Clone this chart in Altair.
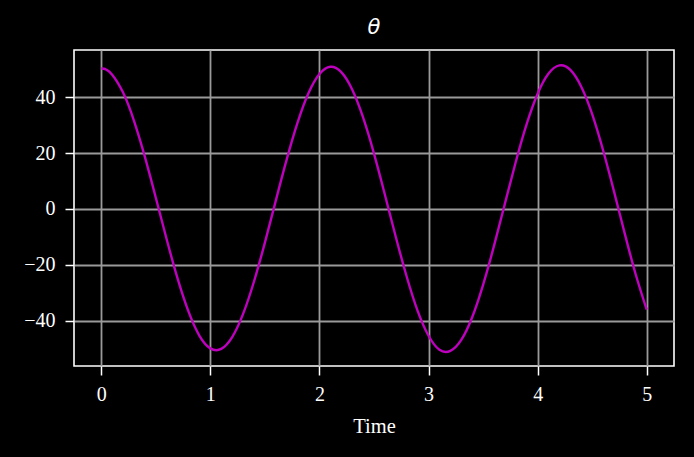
import altair as alt
import pandas as pd

# Time samples (s) and pendulum angle theta (deg)
time = [0.0, 0.025, 0.05, 0.1, 0.2, 0.3, 0.4, 0.5, 0.6, 0.7, 0.8, 0.9,
        1.0, 1.1, 1.2, 1.3, 1.4, 1.5, 1.6, 1.7, 1.8, 1.9,
        2.0, 2.1, 2.2, 2.3, 2.4, 2.5, 2.6, 2.7, 2.8, 2.9,
        3.0, 3.1, 3.2, 3.3, 3.4, 3.5, 3.6, 3.7, 3.8, 3.9,
        4.0, 4.1, 4.2, 4.3, 4.4, 4.5, 4.6, 4.7, 4.8, 4.9, 5.0]
theta = [50.2, 50.1, 49.7, 48.0, 41.6, 31.5, 18.6, 4.0, -10.9, -24.9, -36.7, -45.3,
         -49.8, -50.0, -45.8, -37.5, -25.9, -12.0, 3.0, 17.7, 30.9, 41.4,
         48.2, 50.8, 48.9, 42.7, 32.7, 19.8, 5.1, -10.0, -24.2, -36.4,
         -45.3, -50.3, -50.7, -46.8, -38.7, -27.1, -13.2, 1.9, 16.9, 30.4,
         41.2, 48.4, 51.3, 49.7, 43.7, 33.9, 21.0, 6.3, -9.0, -23.5, -36.0]
x_ticks = [0, 1, 2, 3, 4, 5]
y_ticks = [-40, -20, 0, 20, 40]

df = pd.DataFrame({"Time": time, "theta": theta})

axis_common = dict(
    labelFont="Liberation Serif",
    labelFontSize=20,
    labelColor="white",
    titleFont="Liberation Serif",
    titleFontSize=20.5,
    titleFontWeight="normal",
    titleColor="white",
    tickColor="white",
    tickSize=9,
    tickWidth=1.5,
    domain=False,
    grid=True,
    gridColor="#9a9a9a",
    gridWidth=1.8,
    gridOpacity=1,
)

chart = alt.Chart(df).mark_line(
    color="#bf00bf", strokeWidth=2.4, interpolate="natural", clip=True
).encode(
    x=alt.X(
        "Time:Q",
        scale=alt.Scale(domain=[-0.25, 5.25], nice=False, zero=False),
        axis=alt.Axis(
            values=x_ticks, title="Time", labelPadding=9, titlePadding=12,
            labelExpr="replace(format(datum.value, 'd'), '-', '\u2212')",
            **axis_common,
        ),
    ),
    y=alt.Y(
        "theta:Q",
        scale=alt.Scale(domain=[-56.1, 56.8], nice=False, zero=False),
        axis=alt.Axis(
            values=y_ticks, title=None, labelPadding=10,
            labelExpr="replace(format(datum.value, 'd'), '-', '\u2212')",
            **axis_common,
        ),
    ),
).properties(
    width=600,
    height=316,
    title=alt.TitleParams(
        "\u03b8", font="DejaVu Sans", fontStyle="italic", fontWeight="normal",
        fontSize=21, color="white", offset=12, anchor="middle",
    ),
    autosize=alt.AutoSizeParams(type="none"),
    padding={"left": 66, "top": 42, "right": 4, "bottom": 83},
).configure(
    background="black"
).configure_view(
    stroke="white", strokeWidth=1.6, fill="black"
)


class BlackPage:
    """Standard altair page template, with a black page background."""

    def render(self, *args, **kwargs):
        from altair.utils import html as alt_html
        out = alt_html.TEMPLATES["standard"].render(*args, **kwargs)
        return out.replace(
            "<head>", "<head>\n<style>html, body { background: #000; }</style>", 1
        )


try:
    chart.save("out.html", embed_options={"renderer": "svg", "actions": False},
               template=BlackPage())
except Exception:
    chart.save("out.html", embed_options={"renderer": "svg", "actions": False})
